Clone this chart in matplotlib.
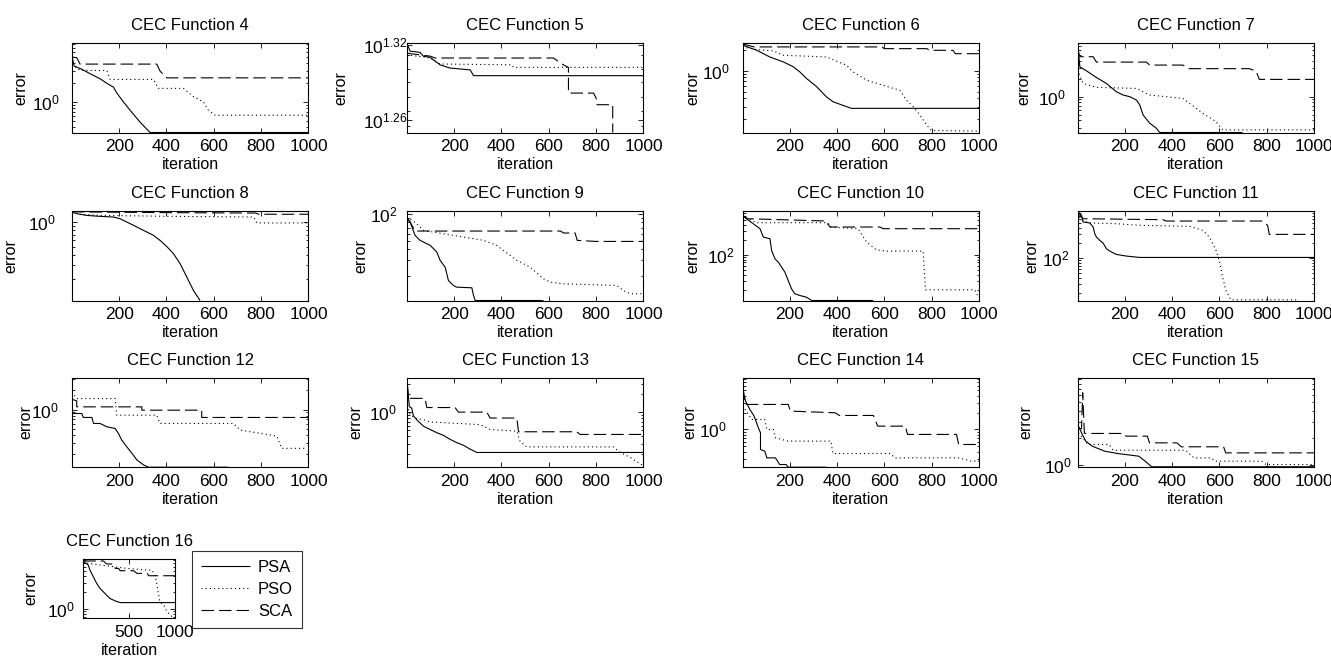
import numpy as np
import matplotlib
matplotlib.use("Agg")
import matplotlib.pyplot as plt
from matplotlib.ticker import FixedLocator, FixedFormatter, NullFormatter, LogLocator

plt.rcParams['font.family'] = ['Liberation Sans', 'DejaVu Sans']
plt.rcParams['mathtext.fontset'] = 'custom'
plt.rcParams['mathtext.rm'] = 'Liberation Sans'
plt.rcParams['mathtext.it'] = 'Liberation Sans:italic'
plt.rcParams['mathtext.bf'] = 'Liberation Sans:bold'
plt.rcParams['lines.scale_dashes'] = False

# ---------------- data: (iteration, log10(error)) ----------------
functions = [4, 5, 6, 7, 8, 9, 10, 11, 12, 13, 14, 15, 16]
series_names = ['PSA', 'PSO', 'SCA']
xticks_main = [200, 400, 600, 800, 1000]
xticks_small = [500, 1000]

f4_psa = [(1,0.71),(10,0.56),(42,0.51),(77,0.44),(120,0.36),(148,0.29),(176,0.23),(190,0.14),(218,0.0),(246,-0.13),(289,-0.32),(331,-0.48),(1000,-0.48)]
f4_pso = [(1,0.59),(35,0.49),(148,0.49),(162,0.35),(345,0.35),(366,0.21),(472,0.21),(514,0.08),(556,0.0),(577,-0.13),(606,-0.21),(1000,-0.21)]
f4_sca = [(1,0.70),(21,0.69),(35,0.59),(359,0.59),(373,0.48),(401,0.375),(1000,0.375)]

f5_psa = [(1,1.321),(14,1.315),(56,1.314),(70,1.311),(99,1.310),(141,1.304),(183,1.3015),(268,1.300),(282,1.2954),(1000,1.2954)]
f5_pso = [(1,1.3121),(99,1.3095),(141,1.3047),(444,1.3041),(451,1.302),(1000,1.302)]
f5_sca = [(1,1.3135),(14,1.313),(99,1.311),(120,1.3095),(620,1.3095),(662,1.304),(683,1.302),(683,1.2815),(789,1.2815),(800,1.2775),(803,1.2722),(870,1.2722),(870,1.25)]

f6_psa = [(1,0.40),(11,0.36),(60,0.30),(117,0.20),(173,0.13),(215,0.06),(243,-0.015),(271,-0.11),(314,-0.23),(356,-0.38),(384,-0.45),(440,-0.52),(461,-0.545),(1000,-0.545)]
f6_pso = [(1,0.347),(60,0.308),(131,0.29),(173,0.226),(356,0.201),(440,0.082),(468,-0.015),(525,-0.135),(637,-0.255),(665,-0.28),(693,-0.424),(722,-0.52),(750,-0.641),(778,-0.785),(799,-0.867),(1000,-0.875)]
f6_sca = [(1,0.39),(50,0.347),(590,0.347),(600,0.322),(780,0.322),(790,0.298),(890,0.298),(900,0.249),(1000,0.249)]

f7_psa = [(1,0.79),(4,0.79),(11,0.5),(39,0.433),(81,0.322),(123,0.222),(165,0.083),(194,0.028),(222,0.0),(250,-0.056),(264,-0.139),(278,-0.306),(306,-0.444),(334,-0.528),(348,-0.6),(698,-0.6)]
f7_pso = [(1,0.45),(4,0.417),(25,0.222),(81,0.156),(250,0.139),(306,0.028),(446,-0.028),(474,-0.111),(530,-0.278),(586,-0.417),(614,-0.556),(1000,-0.556)]
f7_sca = [(1,0.81),(11,0.67),(67,0.67),(81,0.58),(292,0.58),(306,0.53),(446,0.53),(474,0.47),(726,0.47),(755,0.43),(769,0.29),(1000,0.29)]

f8_psa = [(1,0.128),(21,0.107),(63,0.086),(120,0.074),(176,0.066),(204,0.045),(232,0.005),(261,-0.036),(289,-0.078),(317,-0.118),(345,-0.159),(373,-0.221),(401,-0.296),(430,-0.386),(458,-0.509),(486,-0.673),(514,-0.837),(542,-0.96)]
f8_pso = [(1,0.13),(30,0.10),(120,0.086),(400,0.075),(768,0.066),(782,-0.007),(1000,-0.007)]
f8_sca = [(1,0.13),(400,0.12),(775,0.115),(790,0.10),(1000,0.10)]

f9_psa = [(1,1.944),(14,1.907),(35,1.758),(56,1.702),(99,1.646),(127,1.571),(141,1.478),(162,1.403),(176,1.254),(197,1.198),(211,1.179),(275,1.172),(282,1.086),(289,1.03),(577,1.03)]
f9_pso = [(1,1.963),(42,1.888),(70,1.814),(155,1.776),(239,1.739),(324,1.702),(380,1.646),(408,1.59),(465,1.478),(521,1.403),(577,1.273),(606,1.235),(662,1.216),(887,1.198),(915,1.142),(944,1.105),(1000,1.105)]
f9_sca = [(1,1.95),(14,1.907),(35,1.806),(650,1.806),(662,1.784),(711,1.784),(720,1.702),(800,1.69),(1000,1.69)]

f10_psa = [(1,2.82),(4,2.792),(18,2.725),(46,2.625),(75,2.524),(89,2.356),(117,2.322),(124,2.088),(138,1.919),(152,1.852),(166,1.751),(180,1.651),(194,1.483),(208,1.316),(222,1.215),(243,1.181),(271,1.147),(293,1.08),(553,1.08)]
f10_pso = [(1,2.79),(60,2.645),(356,2.645),(370,2.56),(489,2.524),(525,2.255),(566,2.1),(609,2.074),(764,2.074),(774,1.295),(792,1.295),(982,1.295),(996,1.161)]
f10_sca = [(1,2.79),(18,2.725),(356,2.679),(370,2.558),(581,2.558),(595,2.524),(1000,2.524)]

f11_psa = [(1,2.93),(4,2.927),(18,2.859),(25,2.726),(53,2.706),(67,2.625),(74,2.49),(81,2.423),(95,2.356),(109,2.303),(123,2.188),(137,2.141),(165,2.074),(208,2.04),(264,2.013),(1000,2.013)]
f11_pso = [(1,2.9),(18,2.76),(53,2.706),(165,2.692),(264,2.659),(474,2.638),(530,2.558),(558,2.423),(586,2.155),(600,1.953),(614,1.617),(628,1.348),(649,1.16),(937,1.16)]
f11_sca = [(1,2.91),(25,2.792),(362,2.772),(376,2.745),(783,2.745),(804,2.659),(811,2.477),(1000,2.477)]

f12_psa = [(1,-0.062),(42,-0.062),(49,-0.124),(85,-0.124),(92,-0.218),(120,-0.218),(148,-0.27),(183,-0.296),(197,-0.373),(211,-0.477),(232,-0.58),(254,-0.684),(275,-0.788),(303,-0.866),(324,-0.902),(662,-0.902)]
f12_pso = [(1,0.275),(21,0.172),(183,0.172),(190,-0.088),(359,-0.088),(373,-0.218),(683,-0.218),(711,-0.321),(866,-0.415),(887,-0.607),(986,-0.607)]
f12_sca = [(1,0.16),(21,0.135),(21,0.042),(296,0.042),(296,-0.01),(549,-0.01),(549,-0.124),(1000,-0.124)]

f13_psa = [(1,0.43),(3,0.428),(11,0.099),(21,0.071),(28,-0.056),(42,-0.121),(56,-0.176),(70,-0.231),(99,-0.286),(127,-0.34),(155,-0.385),(183,-0.451),(211,-0.506),(239,-0.55),(268,-0.616),(296,-0.671),(1000,-0.671)]
f13_pso = [(1,0.12),(3,0.099),(14,-0.039),(42,-0.105),(70,-0.121),(99,-0.16),(310,-0.204),(352,-0.286),(465,-0.314),(479,-0.489),(493,-0.534),(507,-0.578),(873,-0.578),(901,-0.671),(944,-0.753),(986,-0.863),(1000,-0.89)]
f13_sca = [(1,0.5),(3,0.45),(7,0.236),(77,0.236),(85,0.082),(204,0.082),(218,0.005),(338,0.005),(352,-0.094),(465,-0.094),(472,-0.324),(718,-0.324),(732,-0.369),(1000,-0.369)]

f14_psa = [(1,0.80),(2,0.776),(7,0.626),(14,0.507),(32,0.358),(50,0.238),(68,0.029),(77,-0.06),(77,-0.358),(95,-0.388),(104,-0.508),(140,-0.508),(149,-0.567),(158,-0.627),(185,-0.627),(194,-0.675),(356,-0.675)]
f14_pso = [(1,0.5),(2,0.418),(41,0.179),(95,0.179),(104,0.0),(131,0.0),(140,-0.15),(194,-0.209),(374,-0.209),(383,-0.43),(626,-0.43),(644,-0.508),(914,-0.508),(968,-0.567),(1000,-0.567)]
f14_sca = [(1,0.75),(14,0.447),(194,0.447),(203,0.328),(392,0.298),(410,0.25),(554,0.25),(572,0.059),(689,0.059),(698,-0.089),(905,-0.089),(914,-0.269),(1000,-0.269)]

f15_psa = [(1,0.46),(5,0.429),(18,0.354),(36,0.261),(63,0.205),(116,0.149),(170,0.123),(260,0.093),(287,0.037),(314,-0.025),(1000,-0.025)]
f15_pso = [(1,0.40),(5,0.354),(45,0.224),(134,0.224),(152,0.16),(457,0.16),(493,0.074),(564,0.074),(582,0.037),(780,0.037),(797,0.0),(1000,0.0)]
f15_sca = [(1,0.40),(18,0.40),(23,0.802),(30,0.35),(36,0.347),(197,0.347),(206,0.317),(296,0.317),(305,0.242),(421,0.242),(439,0.198),(618,0.198),(627,0.13),(1000,0.13)]

f16_psa = [(1,0.874),(7,0.874),(55,0.812),(73,0.718),(110,0.593),(147,0.468),(183,0.374),(238,0.28),(293,0.187),(348,0.143),(403,0.111),(1000,0.111)]
f16_pso = [(1,0.874),(18,0.856),(183,0.812),(476,0.749),(696,0.718),(751,0.718),(788,0.593),(813,0.343),(835,0.124),(879,0.062),(916,-0.064),(971,-0.157),(1000,-0.16)]
f16_sca = [(1,0.887),(220,0.887),(256,0.831),(330,0.831),(348,0.749),(385,0.749),(403,0.705),(549,0.705),(586,0.656),(696,0.656),(714,0.612),(1000,0.612)]

series_data = {
    4: (f4_psa, f4_pso, f4_sca), 5: (f5_psa, f5_pso, f5_sca), 6: (f6_psa, f6_pso, f6_sca),
    7: (f7_psa, f7_pso, f7_sca), 8: (f8_psa, f8_pso, f8_sca), 9: (f9_psa, f9_pso, f9_sca),
    10: (f10_psa, f10_pso, f10_sca), 11: (f11_psa, f11_pso, f11_sca), 12: (f12_psa, f12_pso, f12_sca),
    13: (f13_psa, f13_pso, f13_sca), 14: (f14_psa, f14_pso, f14_sca), 15: (f15_psa, f15_pso, f15_sca),
    16: (f16_psa, f16_pso, f16_sca),
}

# y-axis limits (log10) and labelled ticks (log10 exponents)
ylim_log = {4: (-0.48, 0.92), 5: (1.25, 1.3215), 6: (-0.896, 0.404), 7: (-0.6, 0.9),
            8: (-0.96, 0.14), 9: (1.03, 2.03), 10: (1.08, 2.88), 11: (1.147, 2.947),
            12: (-0.902, 0.498), 13: (-0.918, 0.582), 14: (-0.675, 0.925), 15: (-0.03, 0.97),
            16: (-0.176, 0.924)}
ytick_exps = {4: ['0'], 5: ['1.26', '1.32'], 6: ['0'], 7: ['0'], 8: ['0'], 9: ['2'], 10: ['2'],
              11: ['2'], 12: ['0'], 13: ['0'], 14: ['0'], 15: ['0'], 16: ['0']}

# ---------------- layout (pixels) ----------------
W, H = 1331, 661
col_x = [72, 407, 742.5, 1077.5]
row_top = [43, 211, 377.7]
AX_W, AX_H = 236.5, 89.5
ytl_off = {4: 26, 5: 22, 6: 27, 7: 26, 8: 30, 9: 23.5, 10: 22, 11: 22, 12: 27, 13: 24.5, 14: 30, 15: 20, 16: 22.5}
ylab_off = {4: 51, 5: 66, 6: 49.5, 7: 53.5, 8: 61, 9: 46, 10: 50, 11: 46, 12: 46, 13: 51, 14: 53, 15: 52, 16: 52}

fig = plt.figure(figsize=(W / 100, H / 100), dpi=100)
fig.patch.set_facecolor('white')

styles = [dict(linestyle='-'),
          dict(linestyle=(0, (0.8, 2.2))),
          dict(linestyle=(0, (9.0, 3.6)))]

def px_axes(x, top, w, h):
    return fig.add_axes([x / W, 1 - (top + h) / H, w / W, h / H])

handles = None
for i, f in enumerate(functions):
    if f == 16:
        ax = px_axes(83.3, 559, 91.7, 59)
        xt = xticks_small
        wpx = 91.7
    else:
        r, c = divmod(i, 4)
        ax = px_axes(col_x[c], row_top[r], AX_W, AX_H)
        xt = xticks_main
        wpx = AX_W
    lines = []
    for pts, st in zip(series_data[f], styles):
        it = [p[0] for p in pts]
        err = 10 ** np.asarray([p[1] for p in pts])
        ln, = ax.plot(it, err, color='black', linewidth=0.8, solid_capstyle='butt',
                      dash_capstyle='butt', **st)
        lines.append(ln)
    if f == 16:
        handles = lines
    ax.set_yscale('log')
    lo, hi = ylim_log[f]
    ax.set_ylim(10 ** lo, 10 ** hi)
    ax.set_xlim(1, 1000)
    ax.xaxis.set_major_locator(FixedLocator(xt))
    ax.set_xticklabels([str(v) for v in xt])
    exps = ytick_exps[f]
    ax.yaxis.set_major_locator(FixedLocator([10 ** float(e) for e in exps]))
    ax.yaxis.set_major_formatter(FixedFormatter(['$10^{%s}$' % e for e in exps]))
    ax.yaxis.set_minor_locator(LogLocator(base=10, subs=np.arange(2, 10), numticks=20))
    ax.yaxis.set_minor_formatter(NullFormatter())
    ax.tick_params(which='both', direction='in', top=True, right=True, width=0.6, color='black')
    ax.tick_params(which='major', length=3.5)
    ax.tick_params(which='minor', length=1.8)
    ax.tick_params(axis='x', labelsize=12.5, pad=5)
    ax.tick_params(axis='y', labelsize=12.5, pad=ytl_off[f] / 1.389)
    for lbl in ax.get_yticklabels():
        lbl.set_horizontalalignment('center')
    for s in ax.spines.values():
        s.set_linewidth(0.8)
        s.set_color('black')
    ax.set_title('CEC Function %d' % f, fontsize=12, pad=9)
    ax.set_xlabel('iteration', fontsize=11.5, labelpad=2)
    ax.set_ylabel('error', fontsize=11.5)
    ax.yaxis.set_label_coords(-ylab_off[f] / wpx, 0.5)
    ax.yaxis.label.set_verticalalignment('center')

leg = fig.legend(handles, series_names, loc='upper left',
                 bbox_to_anchor=(192 / W, 1 - 551 / H), bbox_transform=fig.transFigure,
                 borderaxespad=0, frameon=True, fancybox=False, edgecolor='black',
                 fontsize=12, handlelength=2.95, handletextpad=0.45, labelspacing=0.4,
                 borderpad=0.55)
leg.get_frame().set_linewidth(0.8)

fig.savefig('out.png', dpi=100, facecolor='white')
